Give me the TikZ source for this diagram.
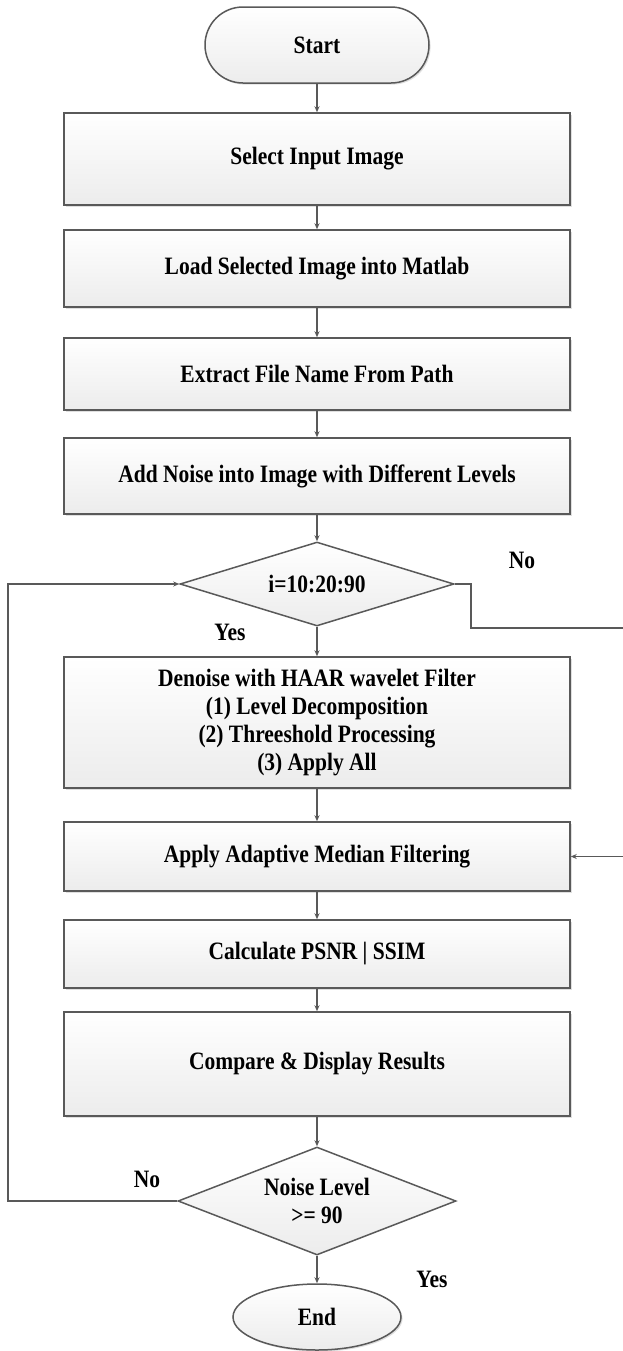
\documentclass[tikz,border=0pt]{standalone}
\usepackage{fontspec}
\setmainfont{Liberation Serif}[FakeStretch=0.86]
\usetikzlibrary{shapes.geometric,arrows.meta,shadows}
\definecolor{linegray}{RGB}{89,89,89}
\definecolor{boxgray}{RGB}{236,236,236}

\begin{document}
\begin{tikzpicture}[x=0.5pt, y=-0.5pt, font=\bfseries\fontsize{12.5}{14}\selectfont]
  \tikzstyle{shad}=[drop shadow={shadow xshift=0.8pt, shadow yshift=-0.8pt, opacity=0.25, fill=gray}]
  \tikzstyle{proc}=[draw=linegray, line width=0.75pt, top color=white, bottom color=boxgray, shad,
                    minimum width=253pt, inner sep=0pt, align=center]
  \tikzstyle{decide}=[diamond, draw=linegray, line width=0.75pt, top color=white, bottom color=boxgray,
                      inner sep=0pt, align=center]
  \tikzstyle{flow}=[draw=linegray, line width=0.75pt, -{Stealth[length=3pt, width=2.5pt]}]
  \useasboundingbox (0,0) rectangle (622,1351);

  \node[draw=linegray, line width=0.75pt, top color=white, bottom color=boxgray, shad,
        rounded corners=19pt, minimum width=112pt, minimum height=38pt] (start) at (317,45) {Start};
  \node[proc, minimum height=46pt]   (select)  at (317,159)   {Select Input Image};
  \node[proc, minimum height=38.5pt] (load)    at (317,268.5) {Load Selected Image into Matlab};
  \node[proc, minimum height=36pt]   (extract) at (317,374)   {Extract File Name From Path};
  \node[proc, minimum height=38pt]   (noise)   at (317,476)   {Add Noise into Image with Different Levels};
  \node[decide, aspect=3.26, minimum width=137pt, minimum height=42pt] (loop) at (317,584) {i=10:20:90};
  \node[proc, minimum height=65.5pt] (denoise) at (317,722.5)
       {Denoise with HAAR wavelet Filter\\(1) Level Decomposition\\(2) Threeshold Processing\\(3) Apply All};
  \node[proc, minimum height=34.5pt] (median)  at (317,856.5) {Apply Adaptive Median Filtering};
  \node[proc, minimum height=34pt]   (psnr)    at (317,954)   {Calculate PSNR | SSIM};
  \node[proc, minimum height=52pt]   (compare) at (317,1064)  {Compare \& Display Results};
  \node[decide, aspect=2.57, minimum width=139pt, minimum height=54pt] (level) at (317,1201) {Noise Level\\>= 90};
  \node[ellipse, draw=linegray, line width=0.75pt, top color=white, bottom color=boxgray, shad,
        minimum width=84pt, minimum height=33pt, inner sep=0pt] (stop) at (317,1317) {End};

  \node (yes1) at (230,632)  {Yes};
  \node (no1)  at (522,560)  {No};
  \node (no2)  at (147,1179) {No};
  \node (yes2) at (432,1279) {Yes};

  \coordinate (r1) at (471,584);
  \coordinate (r2) at (471,628);
  \coordinate (r3) at (660,628);
  \coordinate (r4) at (660,856.5);
  \coordinate (l1) at (8,1201);
  \coordinate (l2) at (8,584);

  \draw[flow] (start) -- (select);
  \draw[flow] (select) -- (load);
  \draw[flow] (load) -- (extract);
  \draw[flow] (extract) -- (noise);
  \draw[flow] (noise) -- (loop);
  \draw[flow] (loop) -- (denoise);
  \draw[flow] (denoise) -- (median);
  \draw[flow] (median) -- (psnr);
  \draw[flow] (psnr) -- (compare);
  \draw[flow] (compare) -- (level);
  \draw[flow] (level) -- (stop);
  \draw[flow] (level.west) -- (l1) -- (l2) -- (loop.west);
  \draw[flow] (loop.east) -- (r1) -- (r2) -- (r3) -- (r4) -- (median.east);
\end{tikzpicture}
\end{document}
